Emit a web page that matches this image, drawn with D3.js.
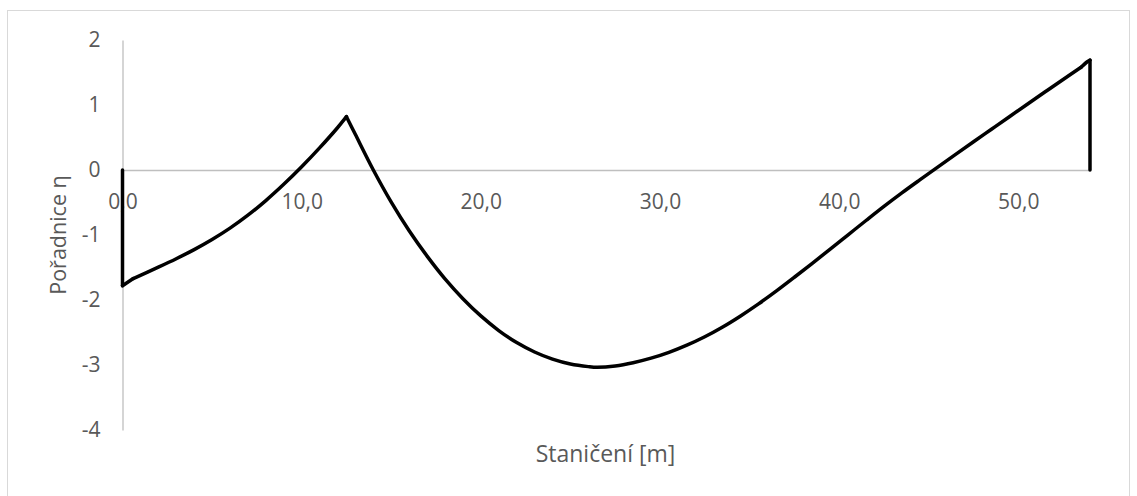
<!DOCTYPE html>
<html>
<head>
<meta charset="utf-8">
<script src="https://cdn.jsdelivr.net/npm/d3@7"></script>
<style>
  html, body { margin: 0; padding: 0; background: #fff; }
  svg { display: block; }
  text { font-family: "Open Sans", "Noto Sans", sans-serif; fill: #595959; }
</style>
</head>
<body>
<svg id="chart" width="1137" height="496"></svg>
<script>
// Staničení [m]
const staniceni = [0, 0, 0.6, 2, 3, 4, 5, 6, 7, 8, 9, 10, 11, 12, 12.5,
  13, 14, 15, 16, 17, 18, 19, 20, 21, 22, 23, 24, 25, 26, 26.5,
  27.5, 28.5, 29.5, 30.5, 31.5, 32.5, 33.5, 34.5, 35.5, 36.5, 37.5, 38.5, 39.5, 40.5,
  41.5, 42.5, 43.5, 44.5, 45.5, 46.5, 47.5, 48.5, 49.5, 50.5, 51.5, 52.5, 53.5, 53.85, 54.0, 54.0];
// Pořadnice η
const poradnice = [0, -1.78, -1.67, -1.495, -1.365, -1.225, -1.07, -0.895, -0.695, -0.47, -0.22, 0.05, 0.34, 0.65, 0.82,
  0.545, 0.0, -0.495, -0.935, -1.325, -1.675, -1.98, -2.245, -2.47, -2.655, -2.80, -2.91, -2.985, -3.025, -3.035,
  -3.015, -2.965, -2.895, -2.805, -2.695, -2.565, -2.415, -2.245, -2.06, -1.86, -1.65, -1.435, -1.217, -0.997,
  -0.777, -0.56, -0.352, -0.152, 0.045, 0.24, 0.434, 0.627, 0.82, 1.012, 1.203, 1.393, 1.58, 1.665, 1.69, 0];
// points where the smoothed line has a corner (indices into the arrays above)
const lomy = [0, 1, 2, 14, 56, 58, 59];
const xTicks = [0, 10, 20, 30, 40, 50];
const yTicks = [-4, -3, -2, -1, 0, 1, 2];
const xTitle = "Staničení [m]";
const yTitle = "Pořadnice η";

const svg = d3.select("#chart");

// chart border
svg.append("rect")
  .attr("x", 7.5).attr("y", 10.5)
  .attr("width", 1122).attr("height", 500)
  .attr("fill", "none").attr("stroke", "#d9d9d9").attr("stroke-width", 1);

const x = d3.scaleLinear().domain([0, 54]).range([122.5, 1090]);
const y = d3.scaleLinear().domain([-4, 2]).range([430, 40]);

// y axis
const yAxis = svg.append("g")
  .attr("transform", `translate(${x(0)},0)`)
  .call(d3.axisLeft(y).tickValues(yTicks).tickSize(0).tickPadding(22)
    .tickFormat(d => String(d)));
yAxis.select(".domain").attr("stroke", "#bfbfbf").attr("stroke-width", 1.3);
yAxis.selectAll("text").style("font-size", "21px").attr("fill", "#595959");

// x axis at y = 0
const xAxis = svg.append("g")
  .attr("transform", `translate(0,${y(0)})`)
  .call(d3.axisBottom(x).tickValues(xTicks).tickSize(0).tickPadding(24)
    .tickFormat(d => d.toFixed(1).replace(".", ",")));
xAxis.select(".domain").attr("stroke", "#bfbfbf").attr("stroke-width", 1.3);
xAxis.selectAll("text").style("font-size", "21px").attr("fill", "#595959");

// data line, smoothed between corner points
const data = staniceni.map((s, i) => ({ s, v: poradnice[i] }));
const segments = d3.pairs(lomy).map(([a, b]) => data.slice(a, b + 1));
const line = d3.line()
  .x(d => x(d.s))
  .y(d => y(d.v))
  .curve(d3.curveCatmullRom.alpha(0.5));
svg.append("g").selectAll("path")
  .data(segments)
  .join("path")
  .attr("d", line)
  .attr("fill", "none")
  .attr("stroke", "#000")
  .attr("stroke-width", 3.5)
  .attr("stroke-linejoin", "round")
  .attr("stroke-linecap", "round");

// axis titles
svg.append("text")
  .attr("x", 605.5).attr("y", 453)
  .attr("text-anchor", "middle").attr("dominant-baseline", "central")
  .style("font-size", "23px")
  .text(xTitle);
svg.append("text")
  .attr("transform", `translate(57,235) rotate(-90)`)
  .attr("text-anchor", "middle").attr("dominant-baseline", "central")
  .style("font-size", "21.5px")
  .text(yTitle);
</script>
</body>
</html>
